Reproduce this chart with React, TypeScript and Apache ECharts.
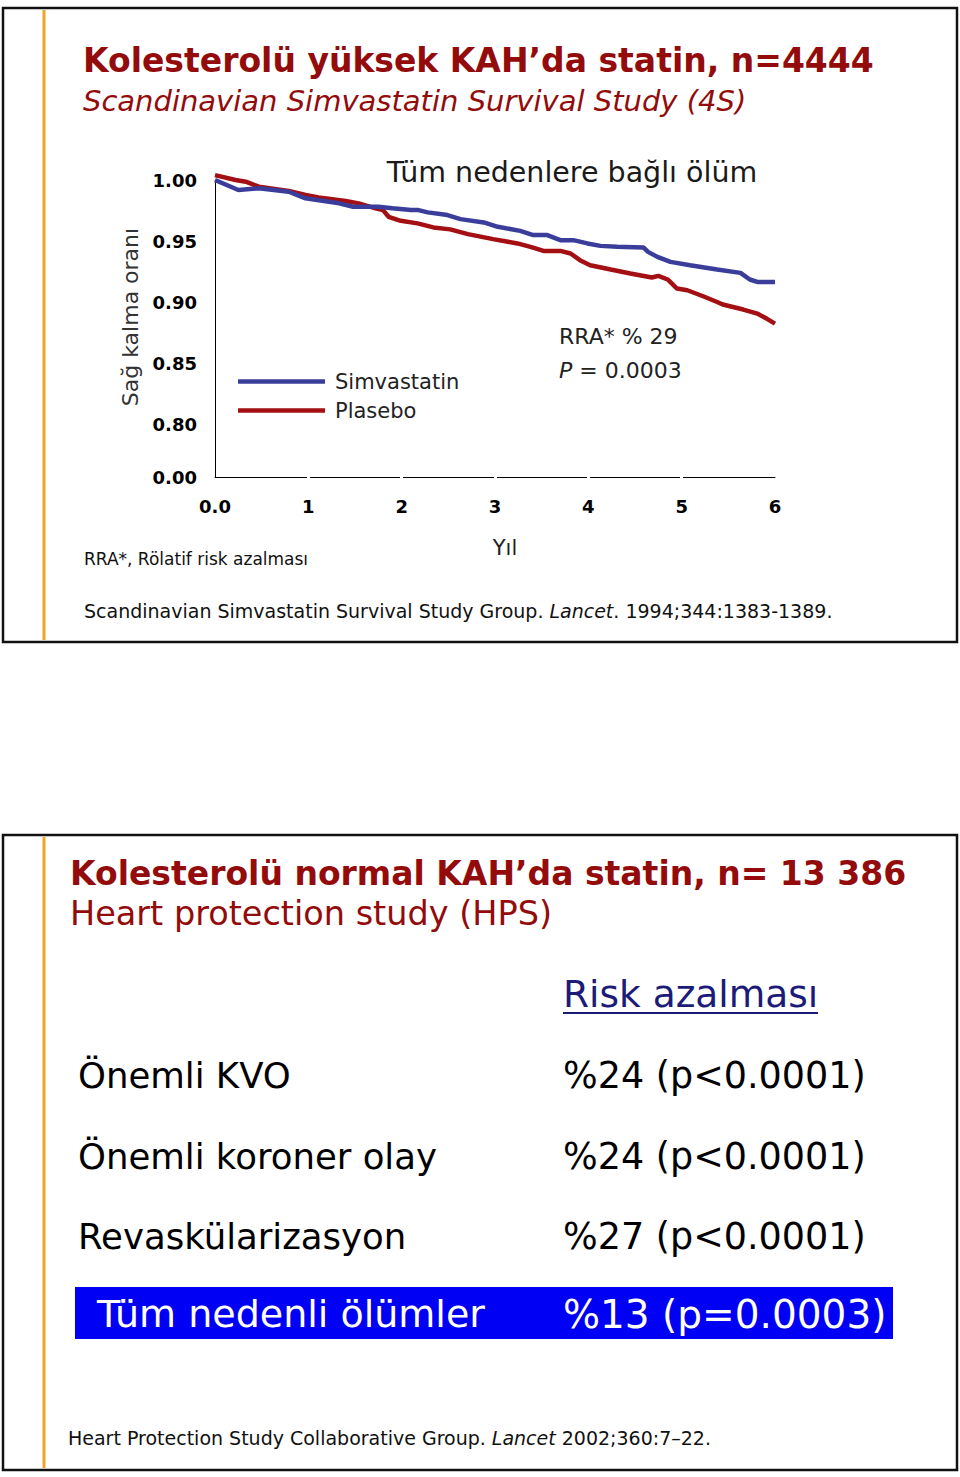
import React, { useEffect, useRef } from "react";
import * as echarts from "echarts";

// ---- Data ----
const YEARS_SIMVA = [0, 0.25, 0.47, 0.79, 0.97, 1.33, 1.48, 1.75, 1.9, 2.1, 2.18, 2.28, 2.49, 2.63, 2.88, 3.03, 3.27, 3.41, 3.56, 3.7, 3.84, 3.99, 4.13, 4.31, 4.59, 4.64, 4.74, 4.88, 5.09, 5.38, 5.63, 5.73, 5.81, 6.0];
const SURV_SIMVA = [1.0, 0.9918, 0.9932, 0.9904, 0.985, 0.9809, 0.9781, 0.9781, 0.9768, 0.9754, 0.9754, 0.9735, 0.9713, 0.968, 0.9653, 0.9617, 0.9584, 0.9549, 0.9549, 0.9508, 0.9508, 0.9481, 0.9461, 0.9453, 0.9448, 0.9412, 0.9371, 0.933, 0.9303, 0.9268, 0.924, 0.9186, 0.9166, 0.9166];

const YEARS_PLAC = [0, 0.22, 0.33, 0.47, 0.79, 0.97, 1.11, 1.4, 1.54, 1.72, 1.8, 1.86, 1.99, 2.17, 2.34, 2.52, 2.71, 2.98, 3.24, 3.38, 3.52, 3.7, 3.81, 3.91, 4.02, 4.24, 4.45, 4.68, 4.75, 4.85, 4.95, 5.06, 5.23, 5.38, 5.44, 5.66, 5.81, 5.91, 6.0];
const SURV_PLAC = [1.004, 1.0, 0.9986, 0.9945, 0.991, 0.9877, 0.9858, 0.9828, 0.9809, 0.9768, 0.9754, 0.9699, 0.9666, 0.9645, 0.9612, 0.9596, 0.9557, 0.9516, 0.9481, 0.9453, 0.942, 0.942, 0.9399, 0.9344, 0.9303, 0.9268, 0.9235, 0.9202, 0.9216, 0.9186, 0.9112, 0.9098, 0.9049, 0.9002, 0.8981, 0.894, 0.8907, 0.8866, 0.8825];

const SERIES_NAMES = ["Simvastatin", "Plasebo"];
const X_LABELS = ["0.0", "1", "2", "3", "4", "5", "6"];
const Y_BREAK_VALUE = 0.757; // shown as "0.00" (broken axis)
const Y_TICKS = [0.8, 0.85, 0.9, 0.95, 1.0];

const HPS_ROWS = ["Önemli KVO", "Önemli koroner olay", "Revaskülarizasyon"];
const HPS_VALUES = ["%24 (p<0.0001)", "%24 (p<0.0001)", "%27 (p<0.0001)"];
const HPS_HIGHLIGHT = ["Tüm nedenli ölümler", "%13 (p=0.0003)"];

// ---- Styles ----
const FONT = "DejaVu Sans";
const DARK_RED = "#930B0B";
const BLUE_LINE = "#3B3D9B";
const RED_LINE = "#A30F12";
const ORANGE = "#F2A328";

function txt(x: number, y: number, text: string, fontSize: number, extra: any = {}, styleExtra: any = {}) {
  return {
    type: "text",
    x,
    y,
    ...extra,
    style: {
      text,
      fontSize,
      fontFamily: FONT,
      fill: "#000",
      verticalAlign: "middle",
      align: "left",
      ...styleExtra,
    },
  };
}

export default function App() {
  const ref = useRef<HTMLDivElement>(null);

  useEffect(() => {
    if (!ref.current) return;
    const chart = echarts.init(ref.current, null, { renderer: "svg" });

    const simva = YEARS_SIMVA.map((x, i) => [x, SURV_SIMVA[i]]);
    const plac = YEARS_PLAC.map((x, i) => [x, SURV_PLAC[i]]);

    const graphic: any[] = [
      // slide 1 frame
      { type: "rect", shape: { x: 3, y: 8, width: 954, height: 634 }, style: { fill: "none", stroke: "#111", lineWidth: 2.5 } },
      { type: "line", shape: { x1: 44, y1: 10, x2: 44, y2: 640 }, style: { stroke: ORANGE, lineWidth: 3 } },
      txt(83, 60, "Kolesterolü yüksek KAH’da statin, n=4444", 33, {}, { fill: DARK_RED, fontWeight: "bold" }),
      txt(83, 101, "Scandinavian Simvastatin Survival Study (4S)", 29, {}, { fill: DARK_RED, fontStyle: "italic" }),
      txt(572, 172, "Tüm nedenlere bağlı ölüm", 28.5, {}, { fill: "#1a1a1a", align: "center" }),
      txt(130, 317, "Sağ kalma oranı", 22, { rotation: Math.PI / 2 }, { fill: "#333", align: "center" }),
      txt(559, 336, "RRA* % 29", 22, {}, { fill: "#222" }),
      txt(559, 370, "{i|P} = 0.0003", 22, {}, {
        fill: "#222",
        rich: { i: { fontStyle: "italic", fontSize: 22, fontFamily: FONT, fill: "#222" } },
      }),
      txt(505, 548, "Yıl", 21, {}, { fill: "#222", align: "center" }),
      txt(84, 559, "RRA*, Rölatif risk azalması", 17, {}, { fill: "#111" }),
      txt(84, 611, "Scandinavian Simvastatin Survival Study Group. {i|Lancet}. 1994;344:1383-1389.", 19, {}, {
        fill: "#111",
        rich: { i: { fontStyle: "italic", fontSize: 19, fontFamily: FONT, fill: "#111" } },
      }),

      // slide 2 frame
      { type: "rect", shape: { x: 3, y: 835, width: 954, height: 635 }, style: { fill: "none", stroke: "#111", lineWidth: 2.5 } },
      { type: "line", shape: { x1: 44, y1: 837, x2: 44, y2: 1468 }, style: { stroke: ORANGE, lineWidth: 3 } },
      txt(70, 873, "Kolesterolü normal KAH’da statin, n= 13 386", 33, {}, { fill: DARK_RED, fontWeight: "bold" }),
      txt(70, 913, "Heart protection study (HPS)", 33.5, {}, { fill: DARK_RED }),
      txt(563, 994, "Risk azalması", 37.5, {}, { fill: "#1C1C78" }),
      { type: "line", shape: { x1: 563, y1: 1013, x2: 818, y2: 1013 }, style: { stroke: "#1C1C78", lineWidth: 2 } },
      { type: "rect", shape: { x: 75, y: 1287, width: 818, height: 52 }, style: { fill: "#0000F5" } },
      txt(97, 1314, HPS_HIGHLIGHT[0], 38, {}, { fill: "#fff" }),
      txt(563, 1314, HPS_HIGHLIGHT[1], 39, {}, { fill: "#fff" }),
      txt(68, 1438, "Heart Protection Study Collaborative Group. {i|Lancet} 2002;360:7–22.", 19, {}, {
        fill: "#111",
        rich: { i: { fontStyle: "italic", fontSize: 19, fontFamily: FONT, fill: "#111" } },
      }),
    ];

    const rowY = [1075, 1156, 1236];
    HPS_ROWS.forEach((r, i) => {
      graphic.push(txt(78, rowY[i], r, 35.5, {}, { fill: "#000" }));
      graphic.push(txt(563, rowY[i], HPS_VALUES[i], 36.5, {}, { fill: "#000" }));
    });

    chart.setOption({
      animation: false,
      textStyle: { fontFamily: FONT },
      grid: { left: 215, top: 180, width: 560, height: 297, containLabel: false },
      xAxis: {
        type: "value",
        min: 0,
        max: 6,
        interval: 1,
        axisLine: { show: true, onZero: false, lineStyle: { color: "#000", width: 1 } },
        axisTick: { show: true, customValues: [1, 2, 3, 4, 5], length: 3, lineStyle: { color: "#fff", width: 3 } },
        splitLine: { show: false },
        axisLabel: {
          fontSize: 18,
          fontWeight: "bold",
          color: "#000",
          fontFamily: FONT,
          margin: 20,
          formatter: (v: number) => X_LABELS[Math.round(v)] ?? String(v),
        },
      },
      yAxis: {
        type: "value",
        min: Y_BREAK_VALUE,
        max: 1.0,
        axisLine: { show: true, onZero: false, lineStyle: { color: "#000", width: 1 } },
        axisTick: { show: false },
        splitLine: { show: false },
        axisLabel: {
          customValues: [Y_BREAK_VALUE, ...Y_TICKS],
          showMinLabel: true,
          showMaxLabel: true,
          fontSize: 18,
          fontWeight: "bold",
          color: "#000",
          fontFamily: FONT,
          margin: 18,
          formatter: (v: number) => (v < 0.79 ? "0.00" : v.toFixed(2)),
        },
      },
      legend: {
        data: SERIES_NAMES,
        orient: "vertical",
        left: 238,
        top: 371,
        padding: 0,
        itemGap: 8,
        icon: "rect",
        itemWidth: 87,
        itemHeight: 4.5,
        textStyle: { fontSize: 21, color: "#222", fontFamily: FONT, lineHeight: 20, padding: [0, 0, 0, 5] },
      },
      series: [
        {
          name: SERIES_NAMES[0],
          type: "line",
          data: simva,
          showSymbol: false,
          clip: false,
          itemStyle: { color: BLUE_LINE },
          lineStyle: { color: BLUE_LINE, width: 4.5 },
          z: 3,
        },
        {
          name: SERIES_NAMES[1],
          type: "line",
          data: plac,
          showSymbol: false,
          clip: false,
          itemStyle: { color: RED_LINE },
          lineStyle: { color: RED_LINE, width: 4.5 },
          z: 2,
        },
      ],
      graphic,
    });

    return () => chart.dispose();
  }, []);

  return <div ref={ref} style={{ position: "absolute", left: 0, top: 0, width: 960, height: 1477 }} />;
}
